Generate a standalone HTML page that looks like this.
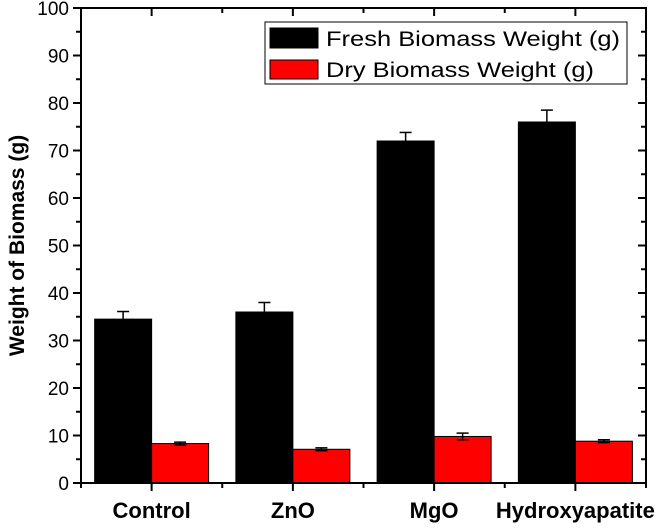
<!DOCTYPE html>
<html><head><meta charset="utf-8"><style>
body{margin:0;background:#fff;}
svg text{font-family:"Liberation Sans",Arial,sans-serif;}
</style></head><body>
<svg id="chart" width="662" height="525" xmlns="http://www.w3.org/2000/svg"></svg>
<script>
const categories=["Control","ZnO","MgO","Hydroxyapatite"];
const freshValues=[34.5,36,72,76];
const freshErrors=[1.6,2,1.8,2.5];
const dryValues=[8.3,7.1,9.8,8.8];
const dryErrors=[0.3,0.3,0.7,0.3];
const yTicks=[0,10,20,30,40,50,60,70,80,90,100];

const L=81,R=646,T=8,B=483;
const NS="http://www.w3.org/2000/svg";
const svg=document.getElementById('chart');
const band=(R-L)/categories.length;
const y=v=>B-(v/100)*(B-T);
const xc=i=>L+band*(i+0.5);
const bw=57;
function mk(tag,attrs,parent){const e=document.createElementNS(NS,tag);for(const k in attrs)e.setAttribute(k,attrs[k]);(parent||svg).appendChild(e);return e;}

categories.forEach((c,i)=>{
  const fb=mk('rect',{x:xc(i)-bw,y:y(freshValues[i]),width:bw,height:B-y(freshValues[i]),fill:'#000',stroke:'#000'});
  
  
  const db=mk('rect',{x:xc(i),y:y(dryValues[i]),width:bw,height:B-y(dryValues[i]),fill:'#ff0000',stroke:'#000','stroke-width':1});
  
  
  [[xc(i)-bw/2,freshValues[i],freshErrors[i],'#000','fresh'],[xc(i)+bw/2,dryValues[i],dryErrors[i],'#000','dry']].forEach(([cx,v,e,col,n])=>{
    const g=mk('g',{stroke:col,'stroke-width':1.5});
    
    
    mk('line',{x1:cx,x2:cx,y1:y(v-e),y2:y(v+e)},g);
    mk('line',{x1:cx-6,x2:cx+6,y1:y(v+e),y2:y(v+e)},g);
    mk('line',{x1:cx-6,x2:cx+6,y1:y(v-e),y2:y(v-e)},g);
  });
  const t=mk('text',{x:xc(i),y:518,'text-anchor':'middle','font-size':22,'font-weight':'bold'});
  t.textContent=c;
  
  
});

const fr=mk('rect',{x:L,y:T,width:R-L,height:B-T,fill:'none',stroke:'#000','stroke-width':2});



yTicks.forEach((v,k)=>{
  mk('line',{x1:L-8,x2:L,y1:y(v),y2:y(v),stroke:'#000','stroke-width':2});
  mk('line',{x1:R-8,x2:R,y1:y(v),y2:y(v),stroke:'#000','stroke-width':2});
  if(k<yTicks.length-1){const m=v+5;
    mk('line',{x1:L-5,x2:L,y1:y(m),y2:y(m),stroke:'#000','stroke-width':2});
    mk('line',{x1:R-5,x2:R,y1:y(m),y2:y(m),stroke:'#000','stroke-width':2});}
  const t=mk('text',{x:L-12,y:y(v)+7,'text-anchor':'end','font-size':19});
  t.textContent=v;
  
  
});
for(let i=0;i<=categories.length*2;i++){
  const x=L+band/2*i;
  const len=i%2?8:5;
  mk('line',{x1:x,x2:x,y1:B,y2:B+len,stroke:'#000','stroke-width':2});
  mk('line',{x1:x,x2:x,y1:T,y2:T+len,stroke:'#000','stroke-width':2});
}
const yt=mk('text',{x:0,y:0,'text-anchor':'middle','font-size':21,'font-weight':'bold',transform:`translate(24,${(T+B)/2}) rotate(-90)`});
yt.textContent='Weight of Biomass (g)';



const lg=mk('g',{});


mk('rect',{x:265,y:22,width:362,height:62,fill:'#fff',stroke:'#000','stroke-width':1},lg);
mk('rect',{x:270,y:28,width:48,height:20,fill:'#000',stroke:'#000'},lg);
mk('rect',{x:270,y:60,width:48,height:19,fill:'#ff0000',stroke:'#000'},lg);
const l1=mk('text',{x:326,y:46,'font-size':21,textLength:294,lengthAdjust:'spacingAndGlyphs'},lg);l1.textContent='Fresh Biomass Weight (g)';


const l2=mk('text',{x:326,y:77,'font-size':21,textLength:268,lengthAdjust:'spacingAndGlyphs'},lg);l2.textContent='Dry Biomass Weight (g)';


</script>
</body></html>
